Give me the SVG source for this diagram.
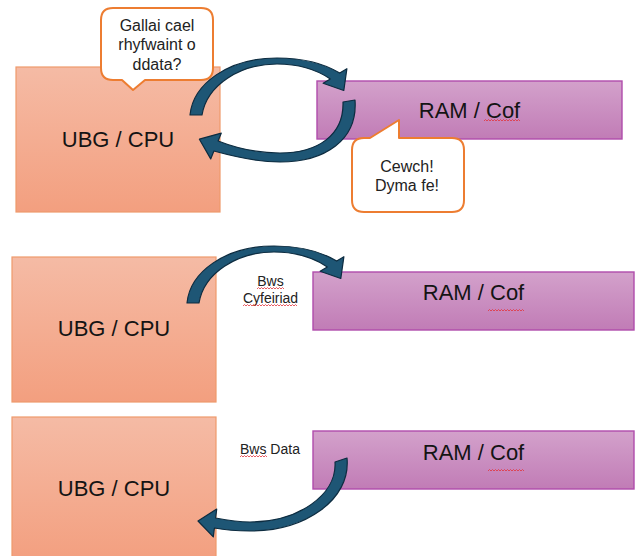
<svg xmlns="http://www.w3.org/2000/svg" width="639" height="556" viewBox="0 0 639 556">
  <defs>
    <linearGradient id="cpuFill" x1="0" y1="0" x2="0" y2="1">
      <stop offset="0" stop-color="#f5bba5"/>
      <stop offset="1" stop-color="#f39f7f"/>
    </linearGradient>
    <linearGradient id="ramFill" x1="0" y1="0" x2="0" y2="1">
      <stop offset="0" stop-color="#d3a1cb"/>
      <stop offset="1" stop-color="#c17cb6"/>
    </linearGradient>
  </defs>
  <style>
    .cpu { fill: url(#cpuFill); stroke: #ef9a6c; stroke-width: 1.2; }
    .ram { fill: url(#ramFill); stroke: #b04cac; stroke-width: 1.4; }
    .bubble { fill: #ffffff; stroke: #ed7d31; stroke-width: 2; stroke-linejoin: round; }
    .big { font-family: "Liberation Sans", Arial, sans-serif; font-size: 22px; fill: #141414; text-anchor: middle; }
    .say { font-family: "Liberation Sans", Arial, sans-serif; font-size: 16px; fill: #222222; text-anchor: middle; }
    .bus { font-family: "Liberation Sans", Arial, sans-serif; font-size: 14px; fill: #222222; text-anchor: middle; }
    .squiggle { fill: none; stroke: #e2343c; stroke-width: 0.8; }
    .arrow { fill: #1e5675; stroke: #0d2c40; stroke-width: 1.2; stroke-linejoin: round; }
  </style>

  <!-- Scene 1: request and reply -->
  <g id="cpu-top">
    <rect class="cpu" x="16" y="67" width="204" height="145"/>
    <text class="big" x="118" y="147">UBG / CPU</text>
  </g>
  <g id="ram-top">
    <rect class="ram" x="317" y="81" width="305" height="58"/>
    <text class="big" x="469.5" y="118">RAM / Cof</text>
    <path class="squiggle" d="M484,121 l1.5,-1.5 1.5,1.5 l1.5,-1.5 1.5,1.5 l1.5,-1.5 1.5,1.5 l1.5,-1.5 1.5,1.5 l1.5,-1.5 1.5,1.5 l1.5,-1.5 1.5,1.5 l1.5,-1.5 1.5,1.5 l1.5,-1.5 1.5,1.5 l1.5,-1.5 1.5,1.5 l1.5,-1.5 1.5,1.5 l1.5,-1.5 1.5,1.5 l1.5,-1.5 1.5,1.5"/>
  </g>
  <g id="bubble-request">
    <path class="bubble" d="M113,8 H201 Q213,8 213,20 V68 Q213,80 201,80 H145 L133,90 L122,80 H113 Q101,80 101,68 V20 Q101,8 113,8 Z"/>
    <text class="say" x="157" y="30.5">Gallai cael</text>
    <text class="say" x="157" y="50">rhyfwaint o</text>
    <text class="say" x="157" y="69.5">ddata?</text>
  </g>
  <g id="bubble-reply">
    <path class="bubble" d="M364,138 H370 L399,120 V138 H452 Q464,138 464,150 V200 Q464,212 452,212 H364 Q352,212 352,200 V150 Q352,138 364,138 Z"/>
    <text class="say" x="407" y="171.5">Cewch!</text>
    <text class="say" x="407" y="191">Dyma fe!</text>
  </g>

  <!-- Scene 2: address bus -->
  <g id="cpu-address">
    <rect class="cpu" x="12" y="257" width="204" height="145"/>
    <text class="big" x="114" y="336">UBG / CPU</text>
  </g>
  <g id="ram-address">
    <rect class="ram" x="313" y="272" width="321" height="58"/>
    <text class="big" x="473.5" y="300">RAM / Cof</text>
    <path class="squiggle" d="M488,311 l1.5,-1.5 1.5,1.5 l1.5,-1.5 1.5,1.5 l1.5,-1.5 1.5,1.5 l1.5,-1.5 1.5,1.5 l1.5,-1.5 1.5,1.5 l1.5,-1.5 1.5,1.5 l1.5,-1.5 1.5,1.5 l1.5,-1.5 1.5,1.5 l1.5,-1.5 1.5,1.5 l1.5,-1.5 1.5,1.5 l1.5,-1.5 1.5,1.5 l1.5,-1.5 1.5,1.5"/>
  </g>
  <g id="label-address-bus">
    <text class="bus" x="270.5" y="286">Bws</text>
    <text class="bus" x="270.5" y="303">Cyfeiriad</text>
    <path class="squiggle" d="M257,289 l1.5,-1.5 1.5,1.5 l1.5,-1.5 1.5,1.5 l1.5,-1.5 1.5,1.5 l1.5,-1.5 1.5,1.5 l1.5,-1.5 1.5,1.5 l1.5,-1.5 1.5,1.5 l1.5,-1.5 1.5,1.5 l1.5,-1.5 1.5,1.5 l1.5,-1.5 1.5,1.5"/>
    <path class="squiggle" d="M243,306 l1.5,-1.5 1.5,1.5 l1.5,-1.5 1.5,1.5 l1.5,-1.5 1.5,1.5 l1.5,-1.5 1.5,1.5 l1.5,-1.5 1.5,1.5 l1.5,-1.5 1.5,1.5 l1.5,-1.5 1.5,1.5 l1.5,-1.5 1.5,1.5 l1.5,-1.5 1.5,1.5 l1.5,-1.5 1.5,1.5 l1.5,-1.5 1.5,1.5 l1.5,-1.5 1.5,1.5 l1.5,-1.5 1.5,1.5 l1.5,-1.5 1.5,1.5 l1.5,-1.5 1.5,1.5 l1.5,-1.5 1.5,1.5 l1.5,-1.5 1.5,1.5 l1.5,-1.5 1.5,1.5"/>
  </g>

  <!-- Scene 3: data bus -->
  <g id="cpu-data">
    <rect class="cpu" x="12" y="417" width="204" height="145"/>
    <text class="big" x="114" y="496">UBG / CPU</text>
  </g>
  <g id="ram-data">
    <rect class="ram" x="313" y="431" width="321" height="58"/>
    <text class="big" x="473.5" y="460">RAM / Cof</text>
    <path class="squiggle" d="M488,471 l1.5,-1.5 1.5,1.5 l1.5,-1.5 1.5,1.5 l1.5,-1.5 1.5,1.5 l1.5,-1.5 1.5,1.5 l1.5,-1.5 1.5,1.5 l1.5,-1.5 1.5,1.5 l1.5,-1.5 1.5,1.5 l1.5,-1.5 1.5,1.5 l1.5,-1.5 1.5,1.5 l1.5,-1.5 1.5,1.5 l1.5,-1.5 1.5,1.5 l1.5,-1.5 1.5,1.5"/>
  </g>
  <g id="label-data-bus">
    <text class="bus" x="270" y="454">Bws Data</text>
    <path class="squiggle" d="M240,457 l1.5,-1.5 1.5,1.5 l1.5,-1.5 1.5,1.5 l1.5,-1.5 1.5,1.5 l1.5,-1.5 1.5,1.5 l1.5,-1.5 1.5,1.5 l1.5,-1.5 1.5,1.5 l1.5,-1.5 1.5,1.5 l1.5,-1.5 1.5,1.5 l1.5,-1.5 1.5,1.5"/>
  </g>

  <!-- Curved block arrows -->
  <g id="connectors">
    <path id="arrow-request" class="arrow" d="M190,115 C193,84 228,58 277,58 C303,58 325,64 339.7,73.1 L346.9,68.7 L343.8,90.5 L323.1,83.3 L330.3,78.9 C317,70 298,64 277,64 C240,64 207,85 202,115 Z"/>
    <path id="arrow-reply" class="arrow" d="M355,100 C358,140 325,162 280,162 C256,162 232,156 213.9,151 L210.7,158.9 L199.4,139.2 L221.3,133.1 L218.1,141 C236,148 257,153 280,153 C318,153 344,135 343,102 Z"/>
    <path id="arrow-address" class="arrow" transform="translate(-3,188)" d="M190,115 C193,84 228,58 277,58 C303,58 325,64 339.7,73.1 L346.9,68.7 L343.8,90.5 L323.1,83.3 L330.3,78.9 C317,70 298,64 277,64 C240,64 207,85 202,115 Z"/>
    <path id="arrow-data" class="arrow" d="M347,458 C351,500 305,531 250,531 C236,531 225,530 214.4,528 L213.3,536.9 L198,521 L216.7,509.1 L215.6,518 C226,520 238,522 250,522 C298,522 337,495 335,462 Z"/>
  </g>
</svg>
